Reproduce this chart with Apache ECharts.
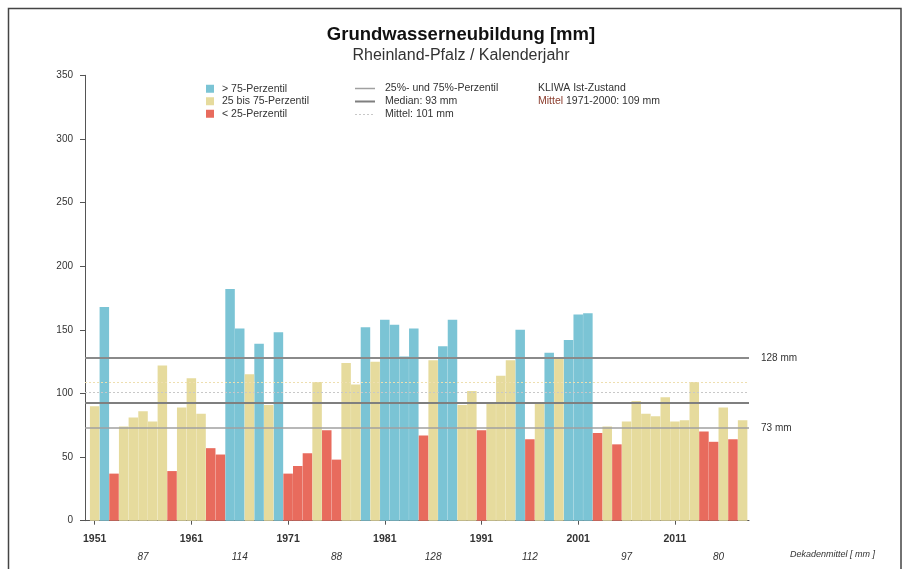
<!DOCTYPE html>
<html>
<head>
<meta charset="utf-8">
<script src="https://cdn.jsdelivr.net/npm/echarts@6/dist/echarts.min.js"></script>
<style>
html,body{margin:0;padding:0;background:#fff;}
#chart{width:907px;height:569px;}
</style>
</head>
<body>
<div id="chart"></div>
<script>
// ---- data ----
const years = [1951,1952,1953,1954,1955,1956,1957,1958,1959,1960,
  1961,1962,1963,1964,1965,1966,1967,1968,1969,1970,
  1971,1972,1973,1974,1975,1976,1977,1978,1979,1980,
  1981,1982,1983,1984,1985,1986,1987,1988,1989,1990,
  1991,1992,1993,1994,1995,1996,1997,1998,1999,2000,
  2001,2002,2003,2004,2005,2006,2007,2008,2009,2010,
  2011,2012,2013,2014,2015,2016,2017,2018];
const recharge = [90,168,37,74,81,86,78,122,39,89,
  112,84,57,52,182,151,115,139,91,148,
  37,43,53,109,71,48,124,107,152,125,
  158,154,129,151,67,126,137,158,91,102,
  71,92,114,126,150,64,92,132,127,142,
  162,163,69,74,60,78,94,84,82,97,
  78,79,109,70,62,89,64,79];
const p25 = 73, p75 = 128, median = 93, mean = 101, kliwaMean = 109;
const yearTicks = [1951,1961,1971,1981,1991,2001,2011];
const decadeCenters = [1956,1966,1976,1986,1996,2006,2015.5];
const decadeMeans = ['87','114','88','128','112','97','80'];

const colHigh = '#7bc4d5', colMid = '#e6db9d', colLow = '#e86b5d';

const highData = [], midData = [], lowData = [];
years.forEach((y, i) => {
  const v = recharge[i];
  if (v > p75) highData.push([y, v]);
  else if (v < p25) lowData.push([y, v]);
  else midData.push([y, v]);
});

const chart = echarts.init(document.getElementById('chart'));
const barW = 9.5;
const txt = '#333';
const ff = 'Liberation Sans, Arial, sans-serif';

function bar(name, data, color, extra) {
  return Object.assign({
    name, type: 'bar', data, barWidth: barW, barGap: '-100%',
    itemStyle: { color }, silent: true, animation: false
  }, extra || {});
}

const option = {
  animation: false,
  textStyle: { fontFamily: ff },
  title: {
    text: 'Grundwasserneubildung [mm]',
    subtext: 'Rheinland-Pfalz / Kalenderjahr',
    left: 461, top: 25, textAlign: 'center', itemGap: 4, padding: 0,
    textStyle: { fontSize: 18.5, fontWeight: 'bold', color: '#111', fontFamily: ff },
    subtextStyle: { fontSize: 16, color: '#333', fontFamily: ff }
  },
  legend: {
    data: ['> 75-Perzentil', '25 bis 75-Perzentil', '< 25-Perzentil'],
    orient: 'vertical', left: 206, top: 82.5, padding: 0,
    itemWidth: 8, itemHeight: 8, itemGap: 0, icon: 'rect',
    textStyle: { fontSize: 10.5, lineHeight: 12.5, color: txt, fontFamily: ff, padding: [0, 0, 0, 3] },
    selectedMode: false
  },
  grid: { left: 85, right: 158, top: 75.3, bottom: 48.3, containLabel: false },
  xAxis: [{
    type: 'value', min: 1950, max: 2018.66,
    axisLine: { show: true, lineStyle: { color: '#555', width: 1 } },
    axisTick: { show: true, length: 4, customValues: yearTicks, lineStyle: { color: '#555' } },
    axisLabel: { customValues: yearTicks, fontSize: 10.5, fontWeight: 'bold', color: txt, margin: 13,
      formatter: v => String(v) },
    splitLine: { show: false }
  }, {
    type: 'value', min: 1950, max: 2018.66, position: 'bottom', offset: 21,
    axisLine: { show: false }, axisTick: { show: false },
    axisLabel: { customValues: decadeCenters, fontSize: 10, fontStyle: 'italic', color: txt, margin: 11,
      formatter: v => decadeMeans[decadeCenters.indexOf(v)] },
    splitLine: { show: false }
  }],
  yAxis: {
    type: 'value', min: 0, max: 350, interval: 50,
    axisLine: { show: true, lineStyle: { color: '#555', width: 1 } },
    axisTick: { show: true, length: 5, lineStyle: { color: '#555' } },
    axisLabel: { fontSize: 10, color: txt, margin: 12 },
    splitLine: { show: false }
  },
  series: [
    bar('> 75-Perzentil', highData, colHigh),
    bar('25 bis 75-Perzentil', midData, colMid),
    bar('< 25-Perzentil', lowData, colLow, {
      markLine: {
        silent: true, symbol: 'none', animation: false,
        data: [
          { yAxis: kliwaMean, lineStyle: { color: '#eedfb0', width: 1, type: [2, 2] }, label: { show: false } },
          { yAxis: mean, lineStyle: { color: '#c8c8c8', width: 1, type: [2, 2] }, label: { show: false } },
          { yAxis: p75, lineStyle: { color: '#8a8a8a', width: 2, type: 'solid' },
            label: { show: true, position: 'end', formatter: p75 + ' mm', fontSize: 10, color: txt, distance: 12 } },
          { yAxis: median, lineStyle: { color: '#7f7f7f', width: 2, type: 'solid' }, label: { show: false } },
          { yAxis: p25, lineStyle: { color: '#a0a0a0', width: 1.5, type: 'solid' },
            label: { show: true, position: 'end', formatter: p25 + ' mm', fontSize: 10, color: txt, distance: 12 } }
        ]
      }
    })
  ],
  graphic: [
    { type: 'rect', shape: { x: 8.5, y: 8.5, width: 892.5, height: 580 },
      style: { fill: 'none', stroke: '#444', lineWidth: 1.5 }, silent: true },
    // line legend
    { type: 'line', shape: { x1: 355, y1: 88.5, x2: 375, y2: 88.5 }, style: { stroke: '#a0a0a0', lineWidth: 1.5 } },
    { type: 'line', shape: { x1: 355, y1: 101.5, x2: 375, y2: 101.5 }, style: { stroke: '#7f7f7f', lineWidth: 2 } },
    { type: 'line', shape: { x1: 355, y1: 114.5, x2: 375, y2: 114.5 }, style: { stroke: '#c8c8c8', lineWidth: 1, lineDash: [2, 2] } },
    { type: 'text', left: 385, top: 82.5, style: { text: '25%- und 75%-Perzentil', fontSize: 10.5, fill: txt, fontFamily: ff } },
    { type: 'text', left: 385, top: 95.5, style: { text: 'Median: 93 mm', fontSize: 10.5, fill: txt, fontFamily: ff } },
    { type: 'text', left: 385, top: 108.5, style: { text: 'Mittel: 101 mm', fontSize: 10.5, fill: txt, fontFamily: ff } },
    { type: 'text', left: 538, top: 82.5, style: { text: 'KLIWA Ist-Zustand', fontSize: 10.5, fill: txt, fontFamily: ff } },
    { type: 'text', left: 538, top: 95.5, style: {
        text: '{r|Mittel} 1971-2000: 109 mm', fontSize: 10.5, fill: txt, fontFamily: ff,
        rich: { r: { fill: '#8a3a2a', fontSize: 10.5, fontFamily: ff } } } },
    { type: 'text', left: 790, top: 550, style: { text: 'Dekadenmittel [ mm ]', fontSize: 9, fontStyle: 'italic', fill: txt, fontFamily: ff } }
  ]
};
chart.setOption(option);
</script>
</body>
</html>
